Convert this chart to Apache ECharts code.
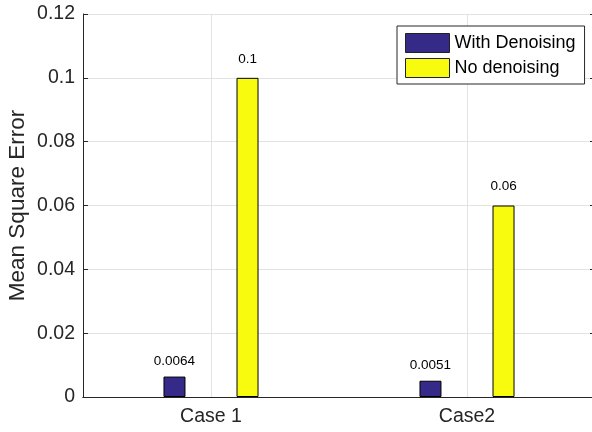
<!DOCTYPE html>
<html><head><meta charset="utf-8">
<script src="https://cdn.jsdelivr.net/npm/echarts@6/dist/echarts.min.js"></script>
<style>html,body{margin:0;padding:0;background:#fff}#c{width:592px;height:432px}</style>
</head><body><div id="c"></div>
<script>
const categories = ['Case 1', 'Case2'];
const withDenoising = [0.0064, 0.0051];
const noDenoising = [0.1, 0.06];
const yTicks = [0, 0.02, 0.04, 0.06, 0.08, 0.1, 0.12];

const FONT = 'Liberation Sans';
const AX = '#262626';
const chart = echarts.init(document.getElementById('c'));
chart.setOption({
  animation: false,
  textStyle: { fontFamily: FONT },
  grid: { left: 83, top: 14, width: 512, height: 383, show: false, containLabel: false, outerBoundsMode: 'none' },
  legend: {
    left: 397, top: 26, orient: 'vertical', align: 'left',
    icon: 'rect',
    itemWidth: 44, itemHeight: 19, itemGap: 5,
    padding: [7, 9, 6, 8],
    backgroundColor: '#fff', borderColor: AX, borderWidth: 1, borderRadius: 0,
    itemStyle: { borderColor: '#222', borderWidth: 1 },
    textStyle: { fontFamily: FONT, fontSize: 18, color: '#000' },
    data: ['With Denoising', 'No denoising']
  },
  xAxis: [{
    type: 'category', data: categories, position: 'bottom',
    axisLine: { lineStyle: { color: AX, width: 1 } },
    axisTick: { inside: true, alignWithLabel: true, length: 5, lineStyle: { color: AX } },
    axisLabel: { fontFamily: FONT, fontSize: 19.5, color: AX, margin: 10 },
    splitLine: { show: true, alignWithLabel: true, lineStyle: { color: '#e3e3e3' } }
  }, {
    type: 'category', data: categories, position: 'top',
    axisLine: { lineStyle: { color: AX, width: 1 } },
    axisTick: { inside: true, alignWithLabel: true, length: 5, lineStyle: { color: AX } },
    axisLabel: { show: false }, splitLine: { show: false }
  }],
  yAxis: [{
    type: 'value', min: 0, max: 0.12, interval: 0.02,
    name: 'Mean Square Error', nameLocation: 'middle', nameGap: 54, nameMoveOverlap: false,
    nameTextStyle: { fontFamily: FONT, fontSize: 22.5, color: AX },
    axisLine: { show: true, lineStyle: { color: AX, width: 1 } },
    axisTick: { show: true, inside: true, length: 5, lineStyle: { color: AX } },
    axisLabel: { fontFamily: FONT, fontSize: 19.5, color: AX, margin: 8,
      formatter: v => { const t = yTicks.find(x => Math.abs(x - v) < 1e-9); return String(t !== undefined ? t : v); } },
    splitLine: { show: true, lineStyle: { color: '#e3e3e3' } }
  }, {
    type: 'value', min: 0, max: 0.12, interval: 0.02, position: 'right',
    axisLine: { show: true, lineStyle: { color: AX, width: 1 } },
    axisTick: { show: true, inside: true, length: 5, lineStyle: { color: AX } },
    axisLabel: { show: false }, splitLine: { show: false }
  }],
  series: [{
    name: 'With Denoising', type: 'bar', data: withDenoising,
    barWidth: 22, barGap: '232%',
    itemStyle: { color: '#352a87', borderColor: '#000', borderWidth: 1 },
    label: { show: true, position: 'top', distance: 8, fontFamily: FONT, fontSize: 13.5, color: '#000' }
  }, {
    name: 'No denoising', type: 'bar', data: noDenoising,
    barWidth: 22, barGap: '232%',
    itemStyle: { color: '#f9fb0e', borderColor: '#000', borderWidth: 1 },
    label: { show: true, position: 'top', distance: 12, fontFamily: FONT, fontSize: 13.5, color: '#000' }
  }]
});
</script></body></html>
